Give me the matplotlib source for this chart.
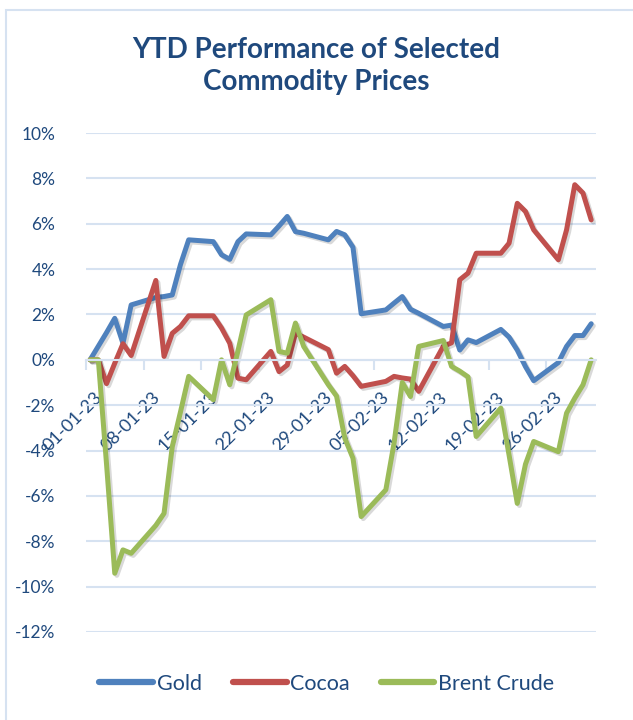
import pandas as pd
import matplotlib.pyplot as plt
import matplotlib.transforms as mtransforms
import matplotlib.patheffects as pe
from matplotlib.patches import Rectangle

plt.rcParams['font.family'] = ['Lato', 'DejaVu Sans']

# Datas (dias úteis + base em 01-01)
datas = ["2023-01-01",
         "2023-01-02", "2023-01-03", "2023-01-04", "2023-01-05", "2023-01-06",
         "2023-01-09", "2023-01-10", "2023-01-11", "2023-01-12", "2023-01-13",
         "2023-01-16", "2023-01-17", "2023-01-18", "2023-01-19", "2023-01-20",
         "2023-01-23", "2023-01-24", "2023-01-25", "2023-01-26", "2023-01-27",
         "2023-01-30", "2023-01-31", "2023-02-01", "2023-02-02", "2023-02-03",
         "2023-02-06", "2023-02-07", "2023-02-08", "2023-02-09", "2023-02-10",
         "2023-02-13", "2023-02-14", "2023-02-15", "2023-02-16", "2023-02-17",
         "2023-02-20", "2023-02-21", "2023-02-22", "2023-02-23", "2023-02-24",
         "2023-02-27", "2023-02-28", "2023-03-01", "2023-03-02", "2023-03-03"]

ouro = [0.0,
        0.6, 1.2, 1.83, 0.73, 2.42,
        2.75, 2.79, 2.86, 4.2, 5.29,
        5.21, 4.63, 4.43, 5.21, 5.55,
        5.51, 5.9, 6.32, 5.65, 5.58,
        5.29, 5.66, 5.51, 4.96, 2.03,
        2.2, 2.5, 2.79, 2.23, 2.05,
        1.47, 1.53, 0.43, 0.88, 0.76,
        1.34, 1.0, 0.43, -0.3, -0.92,
        -0.12, 0.59, 1.07, 1.07, 1.59]

cacau = [0.0,
         0.0, -1.05, -0.15, 0.71, 0.19,
         3.5, 0.15, 1.17, 1.47, 1.94,
         1.94, 1.4, 0.73, -0.81, -0.88,
         0.37, -0.52, -0.23, 1.17, 1.0,
         0.45, -0.59, -0.29, -0.7, -1.17,
         -0.95, -0.73, -0.8, -0.85, -1.39,
         0.6, 0.75, 3.53, 3.82, 4.7,
         4.7, 5.14, 6.9, 6.54, 5.73,
         4.41, 5.73, 7.72, 7.35, 6.17]

brent = [0.0,
         0.0, -4.6, -9.41, -8.38, -8.53,
         -7.3, -6.77, -3.83, -2.3, -0.73,
         -1.76, 0.0, -1.1, 0.4, 1.98,
         2.65, 0.37, 0.29, 1.62, 0.59,
         -1.1, -1.6, -3.45, -4.34, -6.91,
         -5.73, -3.67, -1.0, -1.62, 0.59,
         0.85, -0.29, -0.5, -0.75, -3.38,
         -2.13, -4.2, -6.33, -4.6, -3.6,
         -4.05, -2.35, -1.69, -1.1, 0.0]

series = [("Gold", ouro, "#4F81BD"),
          ("Cocoa", cacau, "#C0504D"),
          ("Brent Crude", brent, "#9BBB59")]

ticks_x = pd.date_range("2023-01-01", "2023-02-26", freq="7D")
ticks_y = list(range(-12, 11, 2))

azul_texto = "#1F497D"
azul_grelha = "#D6E2F1"

fig = plt.figure(figsize=(6.33, 7.2), dpi=100)
ax = fig.add_axes([86 / 633, 1 - 632 / 720, (596 - 86) / 633, (632 - 133) / 720])

# moldura clara do gráfico
fig.patches.append(Rectangle((6 / 633, -0.1), 1.2, 1 - 10 / 720 + 0.1,
                             transform=fig.transFigure, fill=False,
                             edgecolor=azul_grelha, linewidth=1.5))

x = pd.to_datetime(datas) + pd.Timedelta(hours=12)
sombra = [pe.SimpleLineShadow(offset=(1.5, -1.5), alpha=0.15), pe.Normal()]
for nome, valores, cor in series:
    ax.plot(x, valores, color=cor, linewidth=3.6, label=nome,
            solid_joinstyle='round', solid_capstyle='round', path_effects=sombra)

ax.set_xlim(pd.Timestamp("2023-01-01"), pd.Timestamp("2023-03-04 02:00"))
ax.set_ylim(-12, 10)
ax.set_yticks(ticks_y)
ax.set_yticklabels([f"{v}%" for v in ticks_y])
ax.yaxis.grid(True, color=azul_grelha, linewidth=1.5)
ax.set_axisbelow(True)

for lado in ["top", "right", "left"]:
    ax.spines[lado].set_visible(False)
ax.spines["bottom"].set_position(("data", 0))
ax.spines["bottom"].set_color(azul_grelha)
ax.spines["bottom"].set_linewidth(1.5)

ax.set_xticks(ticks_x)
ax.set_xticklabels([d.strftime("%d-%m-%y") for d in ticks_x])
ax.tick_params(axis="x", direction="out", length=7, width=1.5, color=azul_grelha,
               labelsize=13, labelcolor=azul_texto, pad=14)
ax.tick_params(axis="y", length=0, labelsize=12.5, labelcolor=azul_texto, pad=22)

desvio = mtransforms.ScaledTranslation(0.08, 0, fig.dpi_scale_trans)
for lbl in ax.get_xticklabels():
    lbl.set_rotation(45)
    lbl.set_ha("right")
    lbl.set_va("top")
    lbl.set_rotation_mode("anchor")
    lbl.set_transform(lbl.get_transform() + desvio)

fig.text(0.5, 1 - 66 / 720, "YTD Performance of Selected\nCommodity Prices",
         ha="center", va="center", fontsize=20, fontweight="bold",
         color=azul_texto, linespacing=1.25)

leg = fig.legend(loc="center", bbox_to_anchor=(0.516, 1 - 684 / 720), ncol=3,
                 frameon=False, fontsize=15.5, handlelength=2.5,
                 handletextpad=0.15, columnspacing=1.45)
for t in leg.get_texts():
    t.set_color(azul_texto)
for h in leg.get_lines():
    h.set_linewidth(4.5)
    h.set_path_effects([])

fig.savefig("out.png", dpi=100)
